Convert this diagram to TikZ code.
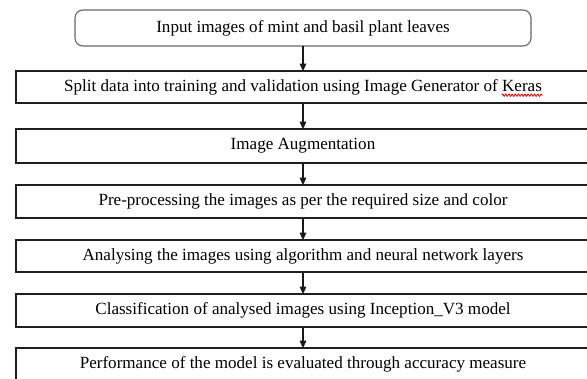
\documentclass[tikz,border=0pt]{standalone}
\usepackage{fontspec}
\setmainfont{Liberation Serif}
\usetikzlibrary{arrows.meta,calc}
\begin{document}
\begin{tikzpicture}[x=0.75pt,y=-0.75pt,
  stepbox/.style={draw=black!88,line width=0.85pt,fill=white},
  startbox/.style={draw=black!60,line width=0.85pt,rounded corners=6pt,fill=white},
  lbl/.style={font=\fontsize{12.8pt}{15pt}\selectfont,inner sep=0pt,anchor=center},
  flow/.style={draw=black!90,line width=0.8pt,-{Triangle[width=5pt,length=5.5pt]}},
  squiggle/.style={draw=red!90!black,line width=0.6pt}]
\useasboundingbox (0,0) rectangle (587,379);
\clip (0,0) rectangle (587,379);
% boxes
\draw[startbox] (75,10) rectangle (531,46);
\draw[stepbox] (16,71) rectangle (590,103);
\draw[stepbox] (16,129) rectangle (590,163);
\draw[stepbox] (16,185) rectangle (590,218);
\draw[stepbox] (16,240) rectangle (590,272);
\draw[stepbox] (16,294) rectangle (590,327);
\draw[stepbox] (16,348) rectangle (590,381);
% text nodes
\node[lbl] (n1) at (303,28) {Input images of mint and basil plant leaves};
\node[lbl] (n2) at (303,87) {Split data into training and validation using Image Generator of Keras};
\node[lbl] (n3) at (303,146) {Image Augmentation};
\node[lbl] (n4) at (303,201.5) {Pre-processing the images as per the required size and color};
\node[lbl] (n5) at (303,256) {Analysing the images using algorithm and neural network layers};
\node[lbl] (n6) at (303,310.5) {Classification of analysed images using Inception\_V3 model};
\node[lbl] (n7) at (303,364.5) {Performance of the model is evaluated through accuracy measure};
% spell-check squiggle under "Keras"
\node[lbl,anchor=base east] (kw) at (n2.base east) {\phantom{Keras}};
\coordinate (kwl) at ($(kw.base west)+(0,-3pt)$);
\coordinate (kwr) at ($(kw.base east)+(0,-3pt)$);
\draw[squiggle,shift={(kwl)}] let \p1=($(kwr)-(kwl)$) in
  plot[domain=0:\x1,samples=61,smooth] ({\x*1pt},{0.9pt*sin(\x*150)});
% connector anchors
\coordinate (a1) at (303,46);  \coordinate (b1) at (303,71);
\coordinate (a2) at (303,103); \coordinate (b2) at (303,129);
\coordinate (a3) at (303,163); \coordinate (b3) at (303,185);
\coordinate (a4) at (303,218); \coordinate (b4) at (303,240);
\coordinate (a5) at (303,272); \coordinate (b5) at (303,294);
\coordinate (a6) at (303,327); \coordinate (b6) at (303,348);
\foreach \i in {1,...,6} {\draw[flow] (a\i) -- (b\i);}
\end{tikzpicture}
\end{document}
